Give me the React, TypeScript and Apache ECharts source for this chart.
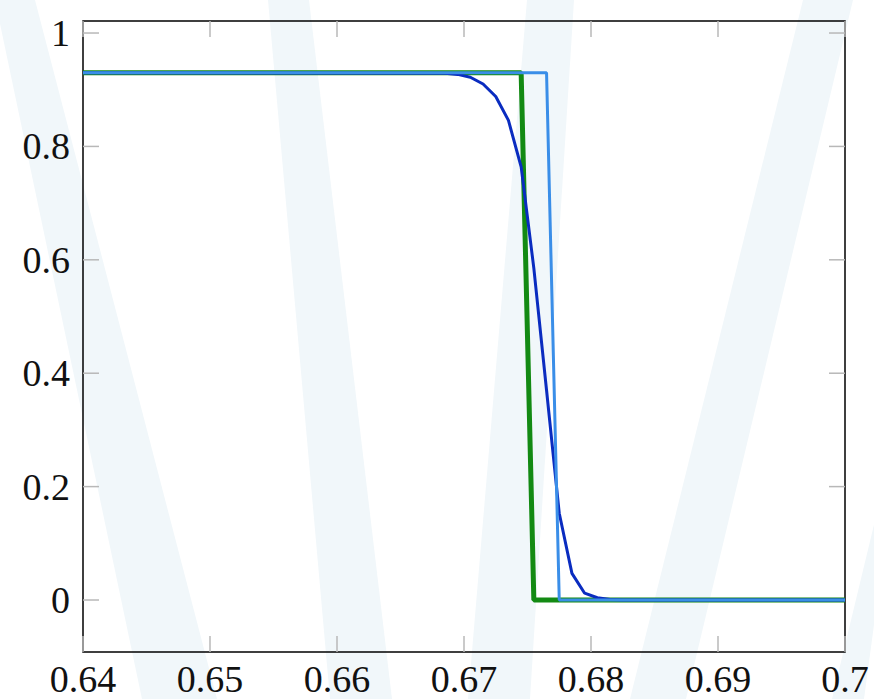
import { useEffect, useRef } from "react";
import * as echarts from "echarts";

// Tick positions
const xTicks = [0.64, 0.65, 0.66, 0.67, 0.68, 0.69, 0.7];
const yTicks = [0, 0.2, 0.4, 0.6, 0.8, 1];

// Sharp step profile (green)
const stepAX = [0.64, 0.6745, 0.6755, 0.7];
const stepAY = [0.93, 0.93, 0, 0];

// Shifted sharp step profile (light blue)
const stepBX = [0.64, 0.6765, 0.6775, 0.7];
const stepBY = [0.93, 0.93, 0, 0];

// Smoothed front (dark blue)
const smoothX = [
  0.64, 0.6685, 0.6695, 0.6705, 0.6715, 0.6725, 0.6735, 0.6745, 0.6755,
  0.6765, 0.6775, 0.6785, 0.6795, 0.6805, 0.6815, 0.6825, 0.7,
];
const smoothY = [
  0.93, 0.929, 0.927, 0.922, 0.91, 0.888, 0.846, 0.764, 0.585, 0.37, 0.153,
  0.047, 0.012, 0.004, 0.001, 0, 0,
];

// Faint background bands (pixel polygons)
const bands: number[][][] = [
  [[-5, 0], [35, 0], [217, 699], [142, 699]],
  [[268, 0], [309, 0], [392, 699], [330, 699]],
  [[527, 0], [574, 0], [530, 699], [468, 699]],
  [[803, 0], [853, 0], [686, 699], [630, 699]],
  [[880, 500], [880, 580], [864, 699], [832, 699]],
];

const zip = (xs: number[], ys: number[]) => xs.map((x, i) => [x, ys[i]]);

const FONT = "Liberation Serif, serif";
const TICK_COLOR = "#b8b8b8";
const TICK_LEN = 16;

// Axis extents and plot box geometry
const X_MIN = 0.64;
const X_MAX = 0.7;
const Y_MIN = -0.0917;
const Y_MAX = 1.0212;
const PLOT = { left: 83, top: 21, width: 762, height: 631 };

// Same linear mapping as the value axes, used for the tick marks on the box
const xPx = (v: number) => PLOT.left + ((v - X_MIN) / (X_MAX - X_MIN)) * PLOT.width;
const yPx = (v: number) =>
  PLOT.top + PLOT.height - ((v - Y_MIN) / (Y_MAX - Y_MIN)) * PLOT.height;

export default function App() {
  const ref = useRef<HTMLDivElement>(null);

  useEffect(() => {
    if (!ref.current) return;
    const chart = echarts.init(ref.current, undefined, { renderer: "svg" });

    const label = (custom: number[], margin: number) => ({
      show: true,
      customValues: custom,
      formatter: (v: number) => String(v),
      fontFamily: FONT,
      fontSize: 38,
      color: "#111",
      margin,
    });

    const hidden = {
      axisLine: { show: false, onZero: false },
      axisTick: { show: false },
      splitLine: { show: false },
    };

    const bandShapes = bands.map((pts) => ({
      type: "polygon",
      z: -10,
      silent: true,
      shape: { points: pts },
      style: { fill: "#f1f7fa" },
    }));

    const bottom = PLOT.top + PLOT.height;
    const right = PLOT.left + PLOT.width;
    const tickLine = (x1: number, y1: number, x2: number, y2: number) => ({
      type: "line",
      silent: true,
      z: 1,
      shape: { x1, y1, x2, y2 },
      style: { stroke: TICK_COLOR, lineWidth: 1.5 },
    });
    const tickShapes = [
      ...xTicks.map((v) => tickLine(xPx(v), PLOT.top, xPx(v), PLOT.top + TICK_LEN)),
      ...xTicks.map((v) => tickLine(xPx(v), bottom, xPx(v), bottom - TICK_LEN)),
      ...yTicks.map((v) => tickLine(PLOT.left, yPx(v), PLOT.left + TICK_LEN, yPx(v))),
      ...yTicks.map((v) => tickLine(right, yPx(v), right - TICK_LEN, yPx(v))),
    ];

    chart.setOption({
      animation: false,
      backgroundColor: "#ffffff",
      textStyle: { fontFamily: FONT },
      graphic: [...bandShapes, ...tickShapes],
      grid: {
        ...PLOT,
        show: true,
        borderColor: "#000",
        borderWidth: 1.5,
        backgroundColor: "transparent",
      },
      xAxis: {
        type: "value",
        min: X_MIN,
        max: X_MAX,
        ...hidden,
        axisLabel: label(xTicks, 8),
      },
      yAxis: {
        type: "value",
        min: Y_MIN,
        max: Y_MAX,
        ...hidden,
        axisLabel: label(yTicks, 13),
      },
      series: [
        {
          type: "line",
          data: zip(stepAX, stepAY),
          showSymbol: false,
          lineStyle: { color: "#138a13", width: 5 },
          z: 2,
        },
        {
          type: "line",
          data: zip(smoothX, smoothY),
          showSymbol: false,
          lineStyle: { color: "#0a2cc0", width: 3 },
          z: 3,
        },
        {
          type: "line",
          data: zip(stepBX, stepBY),
          showSymbol: false,
          lineStyle: { color: "#3a8ee8", width: 3 },
          z: 4,
        },
      ],
    });

    return () => chart.dispose();
  }, []);

  return (
    <div
      ref={ref}
      style={{ position: "absolute", left: 0, top: 0, width: 874, height: 699 }}
    />
  );
}
